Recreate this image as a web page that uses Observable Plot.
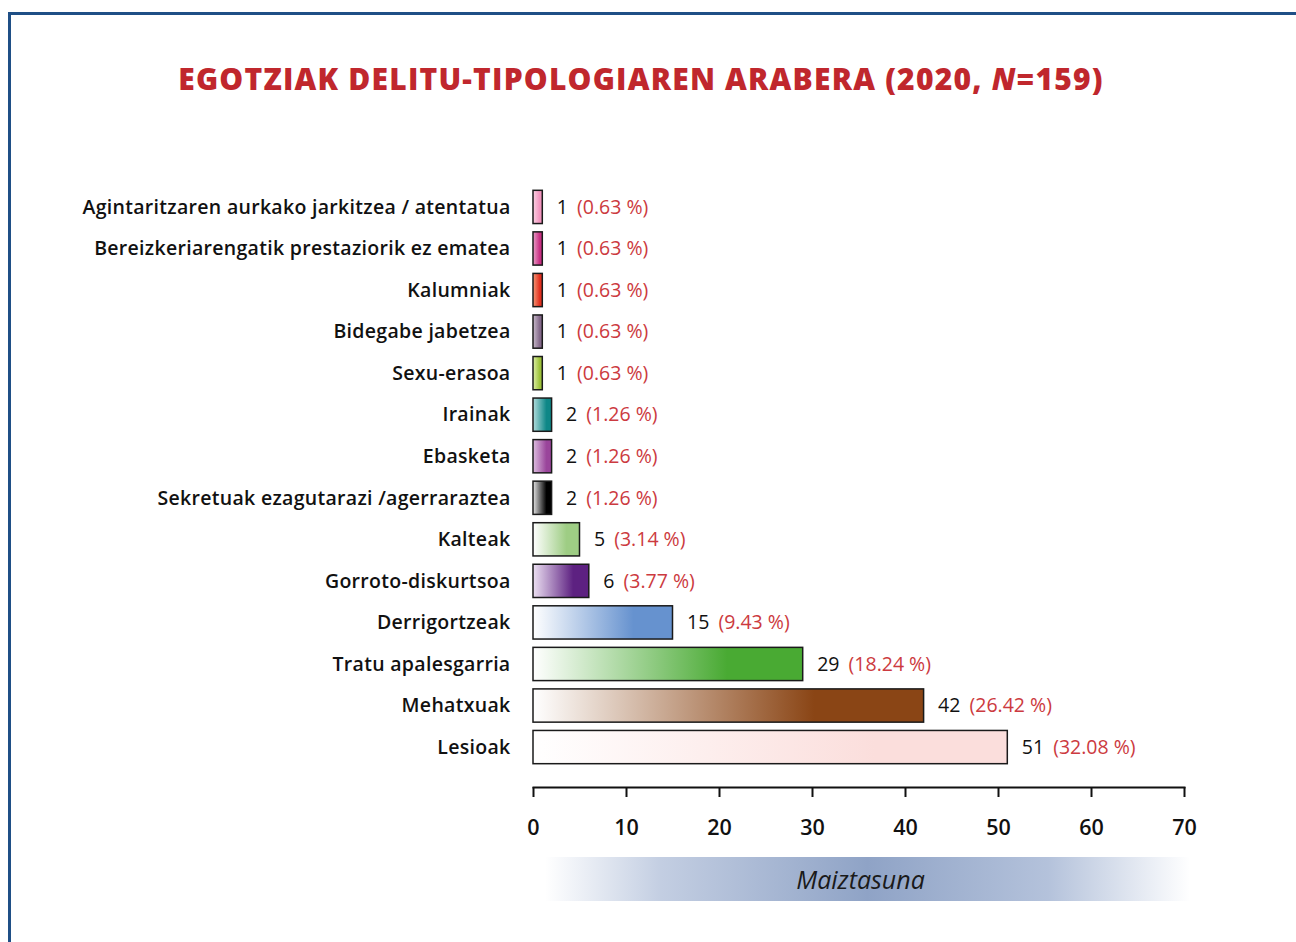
<!DOCTYPE html>
<html><head><meta charset="utf-8">
<script src="https://cdn.jsdelivr.net/npm/d3@7"></script>
<script src="https://cdn.jsdelivr.net/npm/@observablehq/plot@0.6"></script>
<style>
body{margin:0;background:#fff;width:1296px;height:942px;overflow:hidden;position:relative;font-family:"Open Sans",sans-serif}
#frame{position:absolute;left:8px;top:12px;width:1400px;height:1000px;border-top:3px solid #1f4f86;border-left:3px solid #1f4f86;box-sizing:border-box}
#title{position:absolute;top:61px;left:0;width:1282px;text-align:center;color:#c0272d;font-weight:800;font-size:30px;line-height:36px;letter-spacing:1.2px}
#chart{position:absolute;left:0;top:150px}
#xlabel{position:absolute;left:545px;top:857px;width:645px;height:44px;box-sizing:border-box;padding-right:14px;background:linear-gradient(to right,rgba(160,178,208,0) 0%,#c3cee2 18%,#8fa3c6 50%,#b4c2db 78%,rgba(160,178,208,0) 100%);text-align:center;font-style:italic;font-size:25px;line-height:44px;color:#1a1a1a}
</style></head>
<body>
<div id="frame"></div>
<div id="title">EGOTZIAK DELITU-TIPOLOGIAREN ARABERA (2020, <i>N</i>=159)</div>
<div id="chart"></div>
<div id="xlabel">Maiztasuna</div>
<script>
const categories = [
  "Agintaritzaren aurkako jarkitzea / atentatua",
  "Bereizkeriarengatik prestaziorik ez ematea",
  "Kalumniak",
  "Bidegabe jabetzea",
  "Sexu-erasoa",
  "Irainak",
  "Ebasketa",
  "Sekretuak ezagutarazi /agerraraztea",
  "Kalteak",
  "Gorroto-diskurtsoa",
  "Derrigortzeak",
  "Tratu apalesgarria",
  "Mehatxuak",
  "Lesioak"
];
const values = [1, 1, 1, 1, 1, 2, 2, 2, 5, 6, 15, 29, 42, 51];
const percents = ["0.63", "0.63", "0.63", "0.63", "0.63", "1.26", "1.26", "1.26", "3.14", "3.77", "9.43", "18.24", "26.42", "32.08"];
const xTicks = [0, 10, 20, 30, 40, 50, 60, 70];
const barColors = ["#f294be", "#c92f83", "#e3301f", "#84698a", "#9dc23a", "#0e8787", "#9a459b", "#000000", "#9ecd84", "#5d2181", "#6692cf", "#49aa33", "#8a4515", "#fbdedc"];
const barStarts = ["#fbd3e4", "#eaa0c8", "#f49a78", "#c9bccb", "#def0a8", "#b4dede", "#ddbfe0", "#e6e6e6", "#ffffff", "#ece0f2", "#ffffff", "#ffffff", "#ffffff", "#ffffff"];

const data = categories.map((c, i) => ({category: c, value: values[i], pct: percents[i], i}));

const chart = Plot.plot({
  width: 1296, height: 792,
  marginLeft: 533, marginRight: 112, marginTop: 32, marginBottom: 155,
  x: {domain: [0, 70], label: null},
  y: {domain: categories, padding: 0.2, round: false, insetBottom: 15, label: null},
  color: {type: "identity"},
  style: {fontFamily: "'Open Sans', sans-serif", fontSize: "19px", color: "#111", background: "transparent"},
  marks: [
    Plot.barX(data, {x: "value", y: "category", fill: d => `url(#g${d.i})`, stroke: "#1a1a1a", strokeWidth: 1.5}),
    Plot.text(data, {x: "value", y: "category", text: d => String(d.value), textAnchor: "start", dx: 14, fill: "#111", fontSize: 19.5, className: "vals"}),
    Plot.axisY({tickSize: 0, tickPadding: 23, fontSize: 19.5, fontWeight: 600, label: null, className: "ylab"}),
    Plot.axisX({ticks: xTicks, tickSize: 10, tickPadding: 22, fontSize: 21.5, fontWeight: 600, strokeWidth: 2, label: null}),
    Plot.frame({anchor: "bottom", strokeWidth: 2})
  ]
});

const svg = d3.select(chart);
const defs = svg.insert("defs", ":first-child");
barColors.forEach((col, i) => {
  const g = defs.append("linearGradient").attr("id", `g${i}`).attr("x1", 0).attr("x2", 1).attr("y1", 0).attr("y2", 0);
  g.append("stop").attr("offset", "0%").attr("stop-color", barStarts[i]);
  g.append("stop").attr("offset", "72%").attr("stop-color", col);
  g.append("stop").attr("offset", "100%").attr("stop-color", col);
});
svg.selectAll("g.vals text").each(function(d, k) {
  const idx = typeof d === "number" ? d : k;
  d3.select(this).append("tspan").attr("fill", "#cc3a40").attr("dx", 4).text(" (" + percents[idx] + " %)");
});
svg.selectAll("g.ylab text").style("letter-spacing", "0.3px");
document.getElementById("chart").appendChild(chart);
</script>
</body></html>
